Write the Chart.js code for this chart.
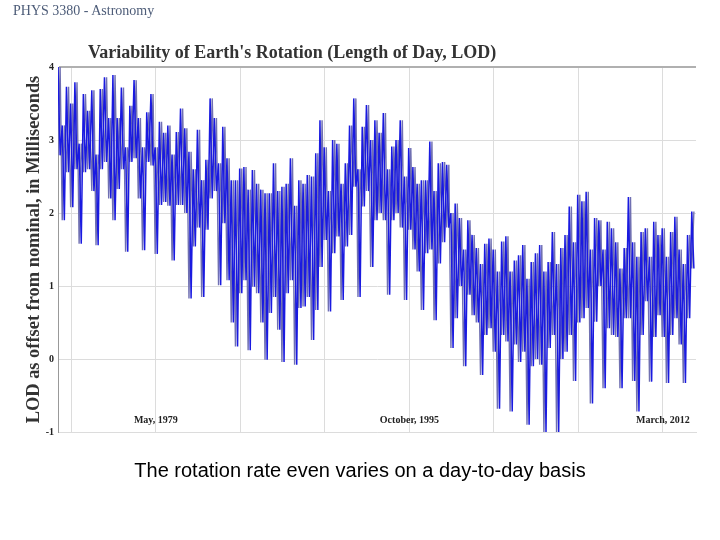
<!DOCTYPE html>
<html>
<head>
<meta charset="utf-8">
<title>Variability of Earth's Rotation</title>
<script src="https://cdn.jsdelivr.net/npm/chart.js@4.4.1/dist/chart.umd.min.js"></script>
<style>
  html, body { margin: 0; padding: 0; background: #fff; }
  #slide { position: relative; width: 720px; height: 540px; overflow: hidden; }
  #slide canvas { position: absolute; left: 0; top: 0; }
  #header { position: absolute; left: 13px; top: 3px; font: 14px "Liberation Serif", serif; color: #4d5c78; }
  #chartTitle { position: absolute; left: 88px; top: 42px; font: bold 18px "Liberation Serif", serif; color: #333; white-space: nowrap; }
  #caption { position: absolute; left: 0; top: 459px; width: 720px; text-align: center; font: 20px "Liberation Sans", Arial, sans-serif; color: #000; }
</style>
</head>
<body>
<div id="slide">
  <canvas id="lodChart" width="720" height="540"></canvas>
  <div id="header">PHYS 3380 - Astronomy</div>
  <div id="chartTitle">Variability of Earth's Rotation (Length of Day, LOD)</div>
  <div id="caption">The rotation rate even varies on a day-to-day basis</div>
</div>
<script>
// Time axis is Modified Julian Date; one bin every 100 days from Jan 1973
const startDay = 41684;
const binDays = 100;

// upper and lower excursion of LOD (ms) inside each bin
const lodHigh = [
  4.0, 3.2, 3.73, 3.5, 3.79, 2.95, 3.63, 3.4, 3.68, 2.8,
  3.7, 3.86, 3.3, 3.89, 3.3, 3.72, 2.9, 3.47, 3.82, 3.3,
  2.9, 3.38, 3.63, 2.9, 3.25, 3.1, 3.2, 2.8, 3.11, 3.43,
  3.16, 2.84, 2.6, 3.14, 2.45, 2.73, 3.57, 3.3, 2.68, 3.18,
  2.75, 2.45, 2.45, 2.61, 2.63, 2.32, 2.59, 2.4, 2.32, 2.27,
  2.27, 2.68, 2.3, 2.36, 2.4, 2.75, 2.1, 2.45, 2.4, 2.52,
  2.5, 2.82, 3.27, 2.9, 2.3, 3.0, 2.95, 2.4, 2.68, 3.2,
  3.57, 2.6, 3.18, 3.48, 3.0, 3.27, 3.1, 3.37, 2.6, 2.91,
  3.0, 3.27, 2.5, 2.89, 2.63, 2.4, 2.45, 2.45, 2.98, 2.3,
  2.68, 2.7, 2.66, 2.0, 2.13, 1.93, 1.5, 1.9, 1.7, 1.52,
  1.3, 1.58, 1.65, 1.5, 1.2, 1.61, 1.68, 1.2, 1.35, 1.42,
  1.56, 1.1, 1.33, 1.45, 1.56, 1.2, 1.33, 1.74, 1.3, 1.52,
  1.7, 2.09, 1.6, 2.25, 2.16, 2.29, 1.5, 1.93, 1.9, 1.5,
  1.88, 1.79, 1.6, 1.24, 1.52, 2.22, 1.6, 1.4, 1.74, 1.79,
  1.4, 1.88, 1.7, 1.79, 1.4, 1.74, 1.95, 1.5, 1.3, 1.7,
  2.02
];
const lodLow = [
  2.79, 1.9, 2.56, 2.08, 2.6, 1.58, 2.56, 2.6, 2.3, 1.56,
  2.6, 2.7, 2.2, 1.9, 2.33, 2.6, 1.47, 2.7, 2.75, 2.2,
  1.49, 2.7, 2.65, 1.44, 2.11, 2.15, 2.1, 1.35, 2.11, 2.11,
  2.0, 0.83, 1.54, 1.8, 0.85, 1.77, 2.2, 2.3, 1.01, 1.86,
  1.08, 0.5, 0.17, 0.9, 1.08, 0.12, 0.99, 0.9, 0.5, -0.01,
  0.63, 0.85, 0.4, -0.04, 0.9, 1.08, -0.08, 0.7, 0.72, 0.85,
  0.26, 0.67, 1.26, 1.63, 0.65, 1.45, 1.68, 0.81, 1.54, 1.7,
  2.36, 0.85, 2.09, 2.3, 1.26, 1.9, 2.0, 1.9, 0.88, 1.9,
  2.0, 1.8, 0.81, 1.77, 1.5, 1.2, 0.67, 1.45, 1.5, 0.53,
  1.31, 1.6, 1.8, 0.15, 0.56, 1.0, -0.1, 0.88, 0.6, 0.5,
  -0.22, 0.33, 0.42, 0.1, -0.68, 0.33, 0.24, -0.72, 0.2, -0.04,
  0.1, -0.9, -0.1, 0.0, -0.08, -1.0, 0.15, 0.33, -1.0, 0.0,
  0.1, 0.33, -0.3, 0.5, 0.56, 0.7, -0.61, 0.51, 1.0, -0.4,
  0.42, 0.33, 0.3, -0.4, 0.56, 0.56, -0.3, -0.72, 0.33, 0.79,
  -0.31, 0.3, 0.6, 0.3, -0.33, 0.33, 0.56, 0.2, -0.33, 0.56,
  1.24
];

// vertical grid every 2000 days, three of them carry a date
const gridDays = [42000, 44000, 46000, 48000, 50000, 52000, 54000, 56000];
const labelDays = [44000, 50000, 56000];
const dateLabels = ['May, 1979', 'October, 1995', 'March, 2012'];

// the daily series swings between the two envelopes many times per bin,
// so draw it as two crossed zig-zags that together fill the band
const swingDown = [];
const swingUp = [];
lodHigh.forEach((hi, i) => {
  const day = startDay + i * binDays;
  swingDown.push({ x: day, y: hi }, { x: day + binDays / 2, y: lodLow[i] });
  swingUp.push({ x: day, y: lodLow[i] }, { x: day + binDays / 2, y: hi });
});

const serif = '"Liberation Serif", "Times New Roman", serif';

// date labels sit inside the plot, just above the bottom gridline
const dateLabelPlugin = {
  id: 'dateLabels',
  afterDatasetsDraw(chart) {
    const { ctx, chartArea, scales } = chart;
    ctx.save();
    ctx.font = 'bold 10px ' + serif;
    ctx.fillStyle = '#222';
    ctx.textAlign = 'center';
    ctx.textBaseline = 'middle';
    labelDays.forEach((d, i) => {
      ctx.fillText(dateLabels[i], scales.x.getPixelForValue(d), chartArea.bottom - 12);
    });
    ctx.restore();
  }
};

new Chart(document.getElementById('lodChart'), {
  type: 'line',
  data: {
    datasets: [{
      label: 'LOD',
      data: swingDown,
      borderColor: '#1a1ae0',
      borderWidth: 1.5,
      pointRadius: 0,
      tension: 0,
      fill: false
    }, {
      label: 'LOD (opposite phase)',
      data: swingUp,
      borderColor: 'rgb(112, 112, 178)',
      borderWidth: 1.4,
      pointRadius: 0,
      tension: 0,
      fill: false
    }]
  },
  options: {
    responsive: false,
    animation: false,
    layout: { padding: { top: 67, bottom: 108, right: 24, left: 0 } },
    plugins: {
      legend: { display: false },
      tooltip: { enabled: false }
    },
    scales: {
      x: {
        type: 'linear',
        min: startDay,
        max: 56784,
        afterBuildTicks: s => { s.ticks = gridDays.map(v => ({ value: v })); },
        ticks: { display: false },
        grid: { color: '#dcdcdc', drawTicks: false },
        border: { display: true, color: '#dcdcdc' }
      },
      y: {
        min: -1,
        max: 4,
        afterFit: s => { s.width = 58; },
        ticks: {
          stepSize: 1,
          padding: 4,
          color: '#222',
          font: { family: serif, size: 10, weight: 'bold' }
        },
        grid: {
          drawTicks: false,
          color: c => c.tick.value === 4 ? '#b0b0b0' : '#dcdcdc',
          lineWidth: c => c.tick.value === 4 ? 2 : 1
        },
        border: { color: '#999' },
        title: {
          display: true,
          text: 'LOD as offset from nominal, in Milliseconds',
          color: '#333',
          font: { family: serif, size: 18.4, weight: 'bold' },
          padding: { top: 23, bottom: 0 }
        }
      }
    }
  },
  plugins: [dateLabelPlugin]
});
</script>
</body>
</html>
